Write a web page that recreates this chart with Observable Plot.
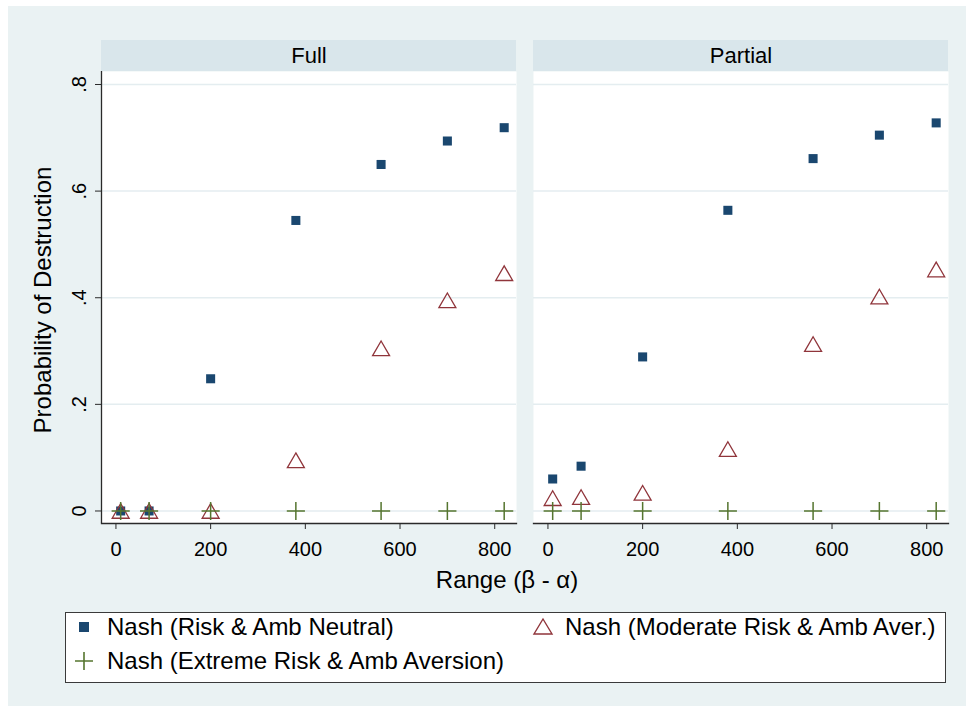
<!DOCTYPE html>
<html><head><meta charset="utf-8">
<script src="https://cdn.jsdelivr.net/npm/d3@7"></script>
<script src="https://cdn.jsdelivr.net/npm/@observablehq/plot@0.6"></script>
<style>
body{margin:0;background:#fff;font-family:"Liberation Sans",Arial,sans-serif;color:#000;}
#wrap{position:relative;width:973px;height:712px;overflow:hidden;}
#bg{position:absolute;left:8px;top:6px;width:958px;height:700px;background:#eaf2f3;}
#chart{position:absolute;left:0;top:0;}
#xtitle{position:absolute;left:357px;width:300px;top:566px;text-align:center;font-size:24px;line-height:28px;}
#ytitle{position:absolute;left:43px;top:300px;width:400px;margin-left:-200px;margin-top:-14px;text-align:center;font-size:24px;line-height:28px;transform:rotate(-90deg);}
#legend{position:absolute;left:65px;top:612px;width:879px;height:69px;background:#fff;border:1.5px solid #3a3a3a;font-size:24px;}
.item{position:absolute;display:flex;align-items:center;white-space:nowrap;line-height:28px;}
.item svg{display:block;}
</style></head><body>
<div id="wrap">
  <div id="bg"></div>
  <div id="chart"></div>
  <div id="ytitle">Probability of Destruction</div>
  <div id="xtitle">Range (β - α)</div>
  <div id="legend"></div>
</div>
<script>
// ---- data ----
const panels = ["Full", "Partial"];
const ranges = [10, 70, 200, 380, 560, 700, 820];
const neutralFull     = [0, 0, 0.248, 0.545, 0.650, 0.694, 0.719];
const moderateFull    = [0, 0, 0, 0.095, 0.305, 0.395, 0.446];
const extremeFull     = [0, 0, 0, 0, 0, 0, 0];
const neutralPartial  = [0.060, 0.084, 0.289, 0.564, 0.661, 0.705, 0.728];
const moderatePartial = [0.024, 0.026, 0.034, 0.116, 0.313, 0.402, 0.453];
const extremePartial  = [0, 0, 0, 0, 0, 0, 0];
const seriesNames = ["Nash (Risk & Amb Neutral)", "Nash (Moderate Risk & Amb Aver.)", "Nash (Extreme Risk & Amb Aversion)"];
const xTicks = [0, 200, 400, 600, 800];
const yTicks = [0, 0.2, 0.4, 0.6, 0.8];
const yTickLabels = ["0", ".2", ".4", ".6", ".8"];
const xTitle = "Range (β - α)";
const yTitle = "Probability of Destruction";

// ---- build table ----
const rows = [];
function add(panel, series, values) {
  values.forEach((v, i) => rows.push({panel, series, range: ranges[i], value: v}));
}
add("Full", seriesNames[0], neutralFull);
add("Full", seriesNames[1], moderateFull);
add("Full", seriesNames[2], extremeFull);
add("Partial", seriesNames[0], neutralPartial);
add("Partial", seriesNames[1], moderatePartial);
add("Partial", seriesNames[2], extremePartial);

const colors = ["#1a476f", "#90353b", "#55752f"];
const xDomain = [-30.5, 846];
const yDomain = [-0.0235, 0.8244];
const H = 568;

const chart = Plot.plot({
  width: 973,
  height: H,
  marginLeft: 101,
  marginRight: 24,
  marginTop: 71,
  marginBottom: H - 523,
  style: {background: "transparent", fontFamily: "'Liberation Sans', Arial, sans-serif", color: "#000"},
  fx: {domain: panels, paddingInner: 17 / 433, paddingOuter: 0, axis: null},
  x: {domain: xDomain},
  y: {domain: yDomain},
  marks: [
    Plot.frame({fill: "white", stroke: null}),
    Plot.rect(panels, {fx: d => d, y1: yDomain[1], y2: yDomain[1], insetTop: -31, fill: "#d9e6eb"}),
    Plot.text(panels, {fx: d => d, text: d => d, frameAnchor: "top", lineAnchor: "middle", dy: -16, fontSize: 22, fill: "#000"}),
    Plot.gridY(yTicks, {stroke: "#e4edf0", strokeOpacity: 1, strokeWidth: 1.5}),
    Plot.frame({anchor: "bottom", stroke: "#2a2a2a", strokeWidth: 1.3}),
    Plot.ruleX([{panel: "Full"}], {x: xDomain[0], fx: "panel", stroke: "#2a2a2a", strokeWidth: 1.3}),
    Plot.axisX(xTicks, {tickSize: 6, tickPadding: 12, fontSize: 20, label: null, stroke: "#2a2a2a", fill: "#000"}),
    Plot.axisY(yTicks, {tickSize: 6, tickPadding: 10, tickRotate: -90, fontSize: 20, label: null,
      tickFormat: d => yTickLabels[yTicks.indexOf(d)], stroke: "#2a2a2a", fill: "#000"}),
    Plot.dot(rows.filter(d => d.series === seriesNames[0]), {x: "range", y: "value", fx: "panel", symbol: "square", r: 5.1, fill: colors[0], stroke: "none"}),
    Plot.dot(rows.filter(d => d.series === seriesNames[1]), {x: "range", y: "value", fx: "panel", symbol: "triangle", r: 6.3, fill: "none", stroke: colors[1], strokeWidth: 1.3, dy: 2.4}),
    Plot.dot(rows.filter(d => d.series === seriesNames[2]), {x: "range", y: "value", fx: "panel", symbol: "plus", r: 5.9, fill: "none", stroke: colors[2], strokeWidth: 1.5})
  ]
});
document.getElementById("chart").appendChild(chart);
document.getElementById("xtitle").textContent = xTitle;
document.getElementById("ytitle").textContent = yTitle;

// ---- legend ----
const legend = document.getElementById("legend");
const swatches = [
  `<svg width="20" height="20"><rect x="5" y="5" width="10" height="10" fill="${colors[0]}"/></svg>`,
  `<svg width="22" height="20"><path d="M11,2 L20,17 L2,17 Z" fill="none" stroke="${colors[1]}" stroke-width="1.4"/></svg>`,
  `<svg width="20" height="20"><path d="M1,10 H19 M10,1 V19" fill="none" stroke="${colors[2]}" stroke-width="1.6"/></svg>`
];
const pos = [[8, -3], [466, -3], [8, 31]];
const gaps = [13, 11, 13];
seriesNames.forEach((name, i) => {
  const div = document.createElement("div");
  div.className = "item";
  div.style.left = pos[i][0] + "px";
  div.style.top = pos[i][1] + "px";
  div.style.height = "34px";
  div.innerHTML = swatches[i] + `<span style="margin-left:${gaps[i]}px">${name.replace(/&/g, "&amp;")}</span>`;
  legend.appendChild(div);
});
</script>
</body></html>
